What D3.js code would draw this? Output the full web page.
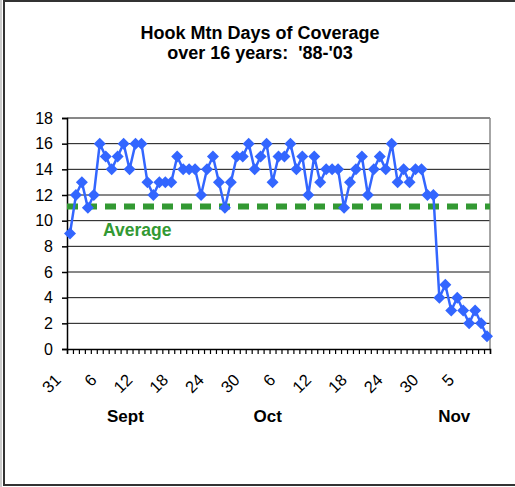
<!DOCTYPE html>
<html>
<head>
<meta charset="utf-8">
<script src="https://cdn.jsdelivr.net/npm/d3@7"></script>
<style>
  body { margin: 0; background: #fff; }
  text { font-family: "Liberation Sans", Arial, sans-serif; }
</style>
</head>
<body>
<div id="chart"></div>
<script>
// data: days from Aug 31 to Nov 9
var days = [31,
  1,2,3,4,5,6,7,8,9,10,11,12,13,14,15,16,17,18,19,20,21,22,23,24,25,26,27,28,29,30,
  1,2,3,4,5,6,7,8,9,10,11,12,13,14,15,16,17,18,19,20,21,22,23,24,25,26,27,28,29,30,31,
  1,2,3,4,5,6,7,8,9];
var coverage = [9,12,13,11,12,16,15,14,15,16,
  14,16,16,13,12,13,13,13,15,14,
  14,14,12,14,15,13,11,13,15,15,
  16,14,15,16,13,15,15,16,14,15,
  12,15,13,14,14,14,11,13,14,15,
  12,14,15,14,16,13,14,13,14,14,
  12,12,4,5,3,4,3,2,3,2,1];
var labelEvery = 6;
var averageValue = 11.1;
var months = ["Sept", "Oct", "Nov"];
var monthAt = [9.3, 33.2, 64.5];   // category index under each month name
var yTicks = [0, 2, 4, 6, 8, 10, 12, 14, 16, 18];

var W = 515, H = 487;
var plot = {left: 67, right: 490, top: 118, bottom: 349};

var svg = d3.select("#chart")
  .append("svg")
    .attr("width", W)
    .attr("height", H);

// outer frame
svg.append("line").attr("x1", 1).attr("x2", 1).attr("y1", 0).attr("y2", 487)
  .style("stroke", "#999").style("stroke-width", 1);
svg.append("rect")
  .attr("x", 4).attr("y", 1).attr("width", 530).attr("height", 484)
  .style("fill", "none").style("stroke", "#333").style("stroke-width", 2);

var idx = d3.range(coverage.length);
var x = d3.scaleBand().domain(idx).range([plot.left, plot.right]);
var xEdge = d3.scaleLinear().domain([0, coverage.length]).range([plot.left, plot.right]);
var y = d3.scaleLinear().domain([0, 18]).range([plot.bottom, plot.top]);
var cx = function(i) { return x(i) + x.bandwidth() / 2; };

// gridlines
svg.append("g")
  .selectAll("line")
  .data(yTicks.filter(function(d) { return d > 0; }))
  .enter()
  .append("line")
    .attr("x1", plot.left).attr("x2", plot.right)
    .attr("y1", function(d) { return y(d); })
    .attr("y2", function(d) { return y(d); })
    .style("stroke", "#111").style("stroke-width", 1);

// right border of plot area
svg.append("line")
  .attr("x1", plot.right).attr("x2", plot.right)
  .attr("y1", plot.top).attr("y2", plot.bottom)
  .style("stroke", "#888").style("stroke-width", 1.5);

// Y axis
var yAxis = svg.append("g")
  .attr("transform", "translate(" + plot.left + ",0)")
  .call(d3.axisLeft(y).tickValues(yTicks).tickSize(5).tickPadding(9));
yAxis.selectAll("text").style("font-size", "16px").style("fill", "#000");
yAxis.selectAll("line, path").style("stroke", "#000").style("stroke-width", 1.5);

// X axis: tick marks on category edges
var xAxis = svg.append("g")
  .attr("transform", "translate(0," + plot.bottom + ")")
  .call(d3.axisBottom(xEdge).tickValues(d3.range(coverage.length + 1)).tickSize(5).tickFormat(""));
xAxis.selectAll("line, path").style("stroke", "#000").style("stroke-width", 1.2);
xAxis.select("path").style("stroke-width", 1.5);

// rotated day labels
svg.append("g")
  .selectAll("text")
  .data(idx.filter(function(i) { return i % labelEvery === 0; }))
  .enter()
  .append("text")
    .attr("transform", function(i) { return "translate(" + (cx(i) - 8) + ",381) rotate(-45)"; })
    .attr("text-anchor", "end")
    .style("font-size", "16.5px")
    .text(function(i) { return days[i]; });

// month names
svg.append("g")
  .selectAll("text")
  .data(months)
  .enter()
  .append("text")
    .attr("x", function(d, i) { return plot.left + (monthAt[i] + 0.5) * x.step(); })
    .attr("y", 422)
    .attr("text-anchor", "middle")
    .style("font-size", "17px").style("font-weight", "bold")
    .text(function(d) { return d; });

// average line
svg.append("line")
  .attr("x1", plot.left).attr("x2", plot.right)
  .attr("y1", y(averageValue)).attr("y2", y(averageValue))
  .style("stroke", "#339933").style("stroke-width", 6)
  .style("stroke-dasharray", "11,8");
svg.append("text")
  .attr("x", 103).attr("y", 236)
  .style("font-size", "17.5px").style("font-weight", "bold")
  .style("fill", "#339933")
  .text("Average");

// the series
var line = d3.line()
  .x(function(d, i) { return cx(i); })
  .y(function(d) { return y(d); });
svg.append("path")
  .datum(coverage)
  .attr("d", line)
  .style("fill", "none").style("stroke", "#3366ff").style("stroke-width", 2.5);

var r = 6;
svg.append("g")
  .selectAll("path")
  .data(coverage)
  .enter()
  .append("path")
    .attr("d", "M0," + (-r) + "L" + r + ",0L0," + r + "L" + (-r) + ",0Z")
    .attr("transform", function(d, i) { return "translate(" + cx(i) + "," + y(d) + ")"; })
    .style("fill", "#3366ff");

// title
svg.append("text")
  .attr("x", 260).attr("y", 39)
  .attr("text-anchor", "middle")
  .style("font-size", "18px").style("font-weight", "bold")
  .text("Hook Mtn Days of Coverage");
svg.append("text")
  .attr("x", 260).attr("y", 59)
  .attr("text-anchor", "middle")
  .style("font-size", "18px").style("font-weight", "bold")
  .attr("xml:space", "preserve")
  .text("over 16 years:  '88-'03");
</script>
</body>
</html>
